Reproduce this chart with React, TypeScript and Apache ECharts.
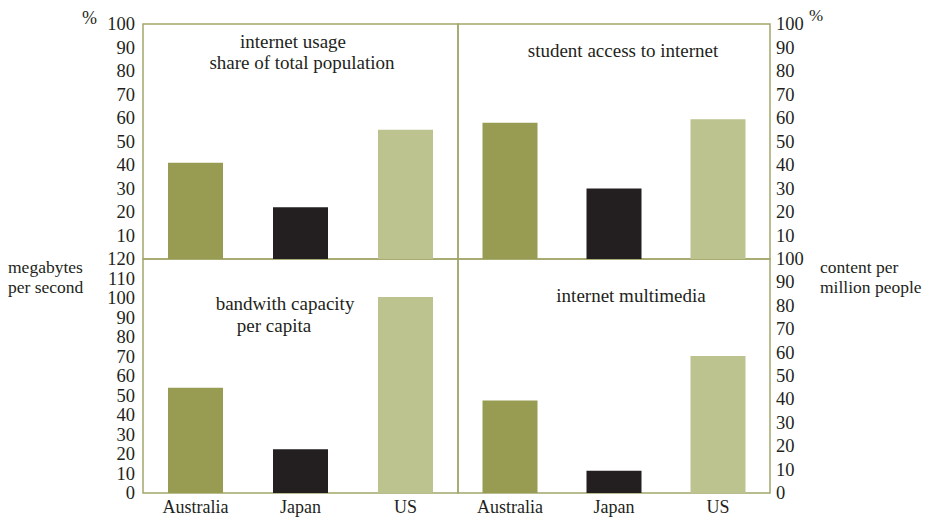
import React, { useEffect, useRef } from "react";
import * as echarts from "echarts";

const categories = ["Australia", "Japan", "US"];
const internetUsage = [41, 22, 55];
const studentAccess = [58, 30, 59.5];
const bandwidthCapacity = [54, 22.5, 100.5];
const internetMultimedia = [39.5, 9.5, 58.5];
const barColors = ["#979c52", "#231f20", "#bcc38f"];

const FONT = "'Liberation Serif', 'DejaVu Serif', serif";
const TEXT = "#231f20";
const BORDER = "#a2a76a";

export default function App() {
  const ref = useRef<HTMLDivElement>(null);
  useEffect(() => {
    if (!ref.current) return;
    const chart = echarts.init(ref.current, null, { renderer: "svg" });
    const grids = [
      { left: 143, top: 24, width: 315, height: 235 },
      { left: 458, top: 24, width: 312, height: 235 },
      { left: 143, top: 259, width: 315, height: 234 },
      { left: 458, top: 259, width: 312, height: 234 },
    ].map((g) => ({ ...g, show: true, borderColor: BORDER, borderWidth: 1.5, backgroundColor: "transparent" }));

    const xAxes = [0, 1, 2, 3].map((i) => ({
      type: "category",
      gridIndex: i,
      data: categories,
      axisLine: { show: false },
      axisTick: { show: false },
      axisLabel: {
        show: i >= 2,
        color: TEXT,
        fontFamily: FONT,
        fontSize: 18,
        margin: 5,
      },
    }));

    const yLabel = (pos: "left" | "right", showMin: boolean, showMax: boolean) => ({
      color: TEXT,
      fontFamily: FONT,
      fontSize: 18.5,
      margin: pos === "left" ? 8 : 6,
      padding: [0, 0, 8, 0],
      showMinLabel: showMin,
      showMaxLabel: showMax,
    });

    const yAxes = [
      { gridIndex: 0, position: "left", min: 0, max: 100, interval: 10, axisLabel: yLabel("left", false, true) },
      { gridIndex: 1, position: "right", min: 0, max: 100, interval: 10, axisLabel: yLabel("right", false, true) },
      { gridIndex: 2, position: "left", min: 0, max: 120, interval: 10, axisLabel: yLabel("left", true, true) },
      { gridIndex: 3, position: "right", min: 0, max: 100, interval: 10, axisLabel: yLabel("right", true, true) },
    ].map((a) => ({
      type: "value",
      ...a,
      axisLine: { show: false },
      axisTick: { show: false },
      splitLine: { show: false },
    }));

    const datasets = [internetUsage, studentAccess, bandwidthCapacity, internetMultimedia];
    const series = datasets.map((d, i) => ({
      type: "bar",
      xAxisIndex: i,
      yAxisIndex: i,
      barWidth: 55,
      data: d.map((v, j) => ({ value: v, itemStyle: { color: barColors[j] } })),
    }));

    const txt = (text: string, x: number, y: number, align = "center", size = 19) => ({
      type: "text",
      x,
      y,
      style: {
        text,
        fill: TEXT,
        font: `${size}px ${FONT}`,
        textAlign: align,
        textVerticalAlign: "middle",
      },
    });

    chart.setOption({
      animation: false,
      backgroundColor: "#ffffff",
      grid: grids,
      xAxis: xAxes,
      yAxis: yAxes,
      series,
      graphic: [
        txt("internet usage", 293, 41),
        txt("share of total population", 302, 62),
        txt("student access to internet", 623, 50),
        txt("bandwith capacity", 285, 303),
        txt("per capita", 274, 325),
        txt("internet multimedia", 631, 295),
        txt("%", 82, 18, "left", 18),
        txt("%", 809, 15, "left", 17),
        txt("megabytes", 8, 267, "left", 17.5),
        txt("per second", 8, 287, "left", 17.5),
        txt("content per", 820, 267, "left", 17.5),
        txt("million people", 820, 287, "left", 17.5),
      ],
    });
    return () => chart.dispose();
  }, []);
  return <div ref={ref} style={{ width: 931, height: 519, position: "absolute", left: 0, top: 0 }} />;
}
